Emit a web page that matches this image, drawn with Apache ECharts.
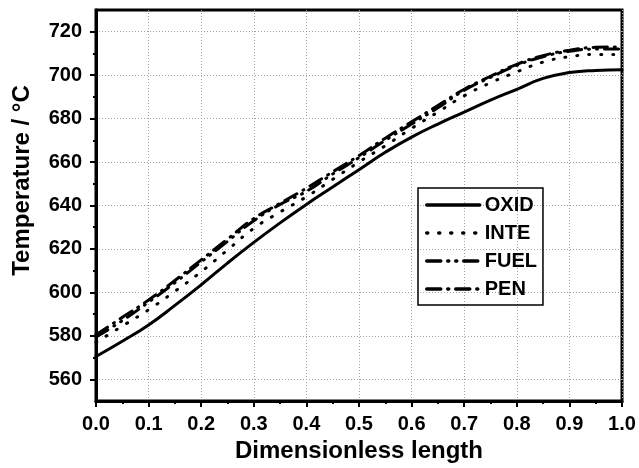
<!DOCTYPE html>
<html lang="en">
  <head>
    <meta charset="UTF-8" />
    <title>temperature chart</title>
    <style>
      body, html {
        margin: 0;
        width: 100%;
        height: 100%;
        background: #fff;
      }
    </style>
  </head>
  <body>
    <div id="main" style="width:639px;height:468px;"></div>

    <script src="https://cdn.jsdelivr.net/npm/echarts@6/dist/echarts.min.js"></script>
    <script>
      // 横坐标 (dimensionless length)
      const xs = [0, 0.05, 0.1, 0.15, 0.2, 0.25, 0.3, 0.35, 0.4, 0.45, 0.5,
        0.55, 0.6, 0.65, 0.7, 0.75, 0.8, 0.85, 0.9, 0.95, 1.0];

      const oxid = [570.5, 577.5, 585, 594, 603.5, 613.5, 623, 632, 640.5, 648.5, 656.5,
        664.5, 671.5, 677.5, 683, 688.5, 693.5, 698.5, 701.2, 702.2, 702.5];
      const inte = [577, 584.5, 592, 600.5, 609.5, 619.5, 629.5, 637, 644, 652, 660,
        667.5, 675.5, 683, 690.5, 696.5, 701.5, 706, 708.5, 709.5, 709.5];
      const fuel = [579.5, 587, 595.5, 604.5, 614, 623.5, 633, 640.5, 646.5, 654.5, 662,
        670, 677.5, 685, 693, 699, 704.5, 708.5, 711, 712, 712];
      const pen = [580.5, 588.5, 596.5, 605.5, 615, 624.5, 634, 641, 648, 655.5, 663,
        671, 678.5, 686, 693.5, 699.5, 705, 709, 711.5, 712.8, 713];

      const yMajor = [560, 580, 600, 620, 640, 660, 680, 700, 720];
      const yMinor = [570, 590, 610, 630, 650, 670, 690, 710];

      const font = 'Liberation Sans, Arial, sans-serif';

      function pairs(ys) {
        return xs.map((x, i) => [x, ys[i]]);
      }

      function draw() {
        const myChart = echarts.init(document.getElementById('main'));

        const gridLine = {
          show: true,
          lineStyle: { color: '#a0a0a0', width: 1, type: [1, 2] },
        };

        const lineSeries = (name, ys, dash) => ({
          name,
          type: 'line',
          data: pairs(ys),
          smooth: true,
          symbol: 'none',
          lineStyle: { color: '#000', width: 3, type: dash, cap: 'round' },
          itemStyle: { color: '#000' },
        });

        const option = {
          animation: false,
          backgroundColor: '#fff',
          grid: {
            left: 96,
            right: 17,
            top: 10,
            bottom: 65,
            show: true,
            borderColor: '#000',
            borderWidth: 3,
          },
          legend: {
            orient: 'vertical',
            left: 418,
            top: 188,
            padding: [7, 6, 6, 7],
            itemWidth: 53,
            itemHeight: 14,
            itemGap: 8,
            borderColor: '#000',
            borderWidth: 1.5,
            itemStyle: { opacity: 0 },
            lineStyle: { width: 3.5 },
            textStyle: {
              fontFamily: font,
              fontWeight: 'bold',
              fontSize: 20,
              lineHeight: 20,
              color: '#000',
            },
            data: ['OXID', 'INTE', 'FUEL', 'PEN'],
          },
          xAxis: {
            type: 'value',
            min: 0,
            max: 1,
            interval: 0.1,
            name: 'Dimensionless length',
            nameLocation: 'middle',
            nameGap: 38,
            nameTextStyle: { fontFamily: font, fontWeight: 'bold', fontSize: 24, color: '#000' },
            axisLine: { show: true, lineStyle: { color: '#000', width: 3 } },
            axisTick: { show: true, length: 6, lineStyle: { color: '#000', width: 2 } },
            minorTick: { show: true, splitNumber: 2, length: 3, lineStyle: { color: '#000', width: 2 } },
            axisLabel: {
              margin: 13,
              fontFamily: font,
              fontWeight: 'bold',
              fontSize: 20,
              color: '#000',
              formatter: v => v.toFixed(1),
            },
            splitLine: gridLine,
          },
          yAxis: [
            {
              type: 'value',
              min: 550,
              max: 730,
              position: 'left',
              name: 'Temperature / °C',
              nameLocation: 'middle',
              nameGap: 62,
              nameTextStyle: {
                fontFamily: font,
                fontWeight: 'bold',
                fontSize: 24,
                color: '#000',
                padding: [0, 0, 0, 50],
              },
              axisLine: { show: true, lineStyle: { color: '#000', width: 3 } },
              axisTick: { show: true, length: 6, customValues: yMajor, lineStyle: { color: '#000', width: 2 } },
              axisLabel: {
                margin: 14,
                customValues: yMajor,
                fontFamily: font,
                fontWeight: 'bold',
                fontSize: 20,
                color: '#000',
              },
              splitLine: gridLine,
            },
            {
              type: 'value',
              min: 550,
              max: 730,
              position: 'left',
              offset: 0,
              axisLine: { show: false },
              axisTick: { show: true, length: 3, customValues: yMinor, lineStyle: { color: '#000', width: 2 } },
              axisLabel: { show: false },
              splitLine: { show: false },
            },
          ],
          series: [
            lineSeries('OXID', oxid, 'solid'),
            lineSeries('INTE', inte, [1, 11]),
            lineSeries('FUEL', fuel, [14, 7, 1, 7, 1, 7]),
            lineSeries('PEN', pen, [14, 7, 1, 7]),
          ],
        };

        myChart.setOption(option);
      }

      draw();
    </script>
  </body>
</html>
